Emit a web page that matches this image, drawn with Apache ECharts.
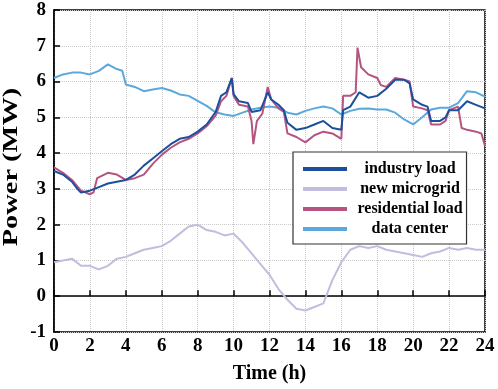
<!DOCTYPE html>
<html>
<head>
<meta charset="utf-8">
<script src="https://cdn.jsdelivr.net/npm/echarts@6/dist/echarts.min.js"></script>
<style>
  html, body { margin: 0; padding: 0; background: #fff; }
  #chart { width: 498px; height: 389px; }
</style>
</head>
<body>
<div id="chart"></div>
<script>
// time (h) / power (MW) pairs
var industry = [[0,3.5],[0.5,3.4],[1,3.2],[1.3,3.0],[1.5,2.9],[2,2.95],[2.5,3.05],[3,3.15],[3.5,3.2],[4,3.25],[4.5,3.4],[5,3.65],[5.5,3.85],[6,4.05],[6.5,4.25],[7,4.4],[7.5,4.45],[8,4.6],[8.5,4.8],[9,5.15],[9.3,5.6],[9.6,5.7],[9.9,6.1],[10,5.65],[10.3,5.45],[10.8,5.4],[11,5.15],[11.5,5.2],[11.9,5.7],[12.1,5.5],[12.5,5.35],[12.8,5.2],[13,4.85],[13.5,4.65],[14,4.7],[14.5,4.8],[15,4.9],[15.5,4.7],[16,4.65],[16.1,5.2],[16.5,5.3],[17,5.7],[17.5,5.55],[18,5.6],[18.5,5.8],[19,6.05],[19.5,6.05],[19.8,5.95],[20,5.5],[20.5,5.35],[20.8,5.3],[21,4.9],[21.5,4.9],[21.8,5.0],[22,5.2],[22.5,5.2],[23,5.45],[23.5,5.35],[24,5.25]]
var microgrid = [[0,0.95],[0.5,1.0],[1,1.05],[1.5,0.85],[2,0.85],[2.5,0.75],[3,0.85],[3.5,1.05],[4,1.1],[4.5,1.2],[5,1.3],[5.5,1.35],[6,1.4],[6.5,1.55],[7,1.75],[7.5,1.95],[8,2.0],[8.5,1.85],[9,1.8],[9.5,1.7],[10,1.75],[10.5,1.5],[11,1.2],[11.5,0.9],[12,0.6],[12.5,0.2],[13,-0.1],[13.5,-0.35],[14,-0.4],[14.5,-0.3],[15,-0.2],[15.5,0.45],[16,0.95],[16.5,1.3],[17,1.4],[17.5,1.35],[18,1.4],[18.5,1.3],[19,1.25],[19.5,1.2],[20,1.15],[20.5,1.1],[21,1.2],[21.5,1.25],[22,1.35],[22.5,1.3],[23,1.35],[23.5,1.3],[24,1.3]]
var residential = [[0,3.6],[0.5,3.45],[1,3.25],[1.5,2.95],[2,2.85],[2.2,2.9],[2.4,3.3],[3,3.45],[3.5,3.4],[4,3.25],[4.5,3.3],[5,3.4],[5.5,3.7],[6,3.95],[6.5,4.15],[7,4.3],[7.5,4.4],[8,4.55],[8.5,4.75],[9,5.05],[9.3,5.45],[9.6,5.6],[9.9,6.1],[10,5.6],[10.3,5.35],[10.8,5.3],[11,4.9],[11.1,4.25],[11.3,4.9],[11.6,5.1],[11.9,5.85],[12.1,5.5],[12.5,5.25],[12.8,5.15],[13,4.55],[13.5,4.45],[14,4.3],[14.5,4.5],[15,4.6],[15.5,4.55],[16,4.4],[16.1,5.6],[16.5,5.6],[16.8,5.7],[16.9,6.95],[17.1,6.4],[17.5,6.2],[18,6.1],[18.2,5.9],[18.5,5.85],[19,6.1],[19.5,6.05],[19.8,6.0],[20,5.3],[20.5,5.25],[20.8,5.2],[21,4.8],[21.5,4.8],[21.8,4.9],[22,5.2],[22.5,5.3],[22.7,4.7],[23,4.65],[23.5,4.6],[23.8,4.55],[24,4.2]]
var dataCenter = [[0,6.1],[0.5,6.2],[1,6.25],[1.5,6.25],[2,6.2],[2.5,6.3],[3,6.48],[3.5,6.35],[3.8,6.3],[4,5.92],[4.5,5.85],[5,5.73],[5.5,5.78],[6,5.82],[6.5,5.75],[7,5.64],[7.5,5.6],[8,5.46],[8.5,5.32],[9,5.14],[9.5,5.08],[10,5.04],[10.5,5.13],[11,5.22],[11.5,5.27],[12,5.3],[12.5,5.27],[13,5.13],[13.5,5.08],[14,5.18],[14.5,5.25],[15,5.3],[15.5,5.25],[16,5.08],[16.5,5.18],[17,5.24],[17.5,5.25],[18,5.22],[18.5,5.22],[19,5.13],[19.5,4.94],[20,4.8],[20.5,5.0],[21,5.22],[21.5,5.27],[22,5.27],[22.5,5.4],[23,5.73],[23.5,5.7],[24,5.58]]

var seriesNames = ['industry load', 'new microgrid', 'residential load', 'data center']
var seriesColors = ['#1c4f9e', '#c3bcdf', '#b5557f', '#5ba9dc']

var font = 'Liberation Serif'
var myChart = echarts.init(document.getElementById('chart'))

function axisCommon () {
  return {
    axisLine: { show: true, lineStyle: { color: '#000', width: 1.5 } },
    axisTick: { show: true, inside: true, length: 6, lineStyle: { color: '#000', width: 1.5 } },
    axisLabel: { color: '#000', fontFamily: font, fontWeight: 'bold', fontSize: 19 },
    splitLine: { show: true, lineStyle: { color: '#c8c8c8', type: 'dotted', width: 1 } },
    nameTextStyle: { color: '#000', fontFamily: font, fontWeight: 'bold', fontSize: 20 }
  }
}

var xAxis = Object.assign(axisCommon(), {
  type: 'value', min: 0, max: 24, interval: 2,
  name: 'Time (h)', nameLocation: 'middle', nameGap: 32
})
var yAxis = Object.assign(axisCommon(), {
  type: 'value', min: -1, max: 8, interval: 1
})
xAxis.axisLabel.margin = 5
yAxis.axisLabel.margin = 8

myChart.setOption({
  animation: false,
  grid: { left: 54, right: 13, top: 10, bottom: 56, show: true, borderColor: '#000', borderWidth: 1.5 },
  // y axis title, stretched along its length like the original
  graphic: [{
    type: 'text',
    x: 12,
    y: 167,
    rotation: Math.PI / 2,
    scaleX: 1.42,
    style: {
      text: 'Power (MW)',
      fill: '#000',
      font: 'bold 20px "Liberation Serif"',
      textAlign: 'center',
      textVerticalAlign: 'middle'
    }
  }],
  legend: {
    data: seriesNames,
    orient: 'vertical',
    left: 293,
    top: 152,
    itemWidth: 44,
    itemHeight: 4,
    itemGap: 4,
    padding: [9, 4, 7, 10],
    borderColor: '#333',
    borderWidth: 1.2,
    backgroundColor: '#fff',
    icon: 'rect',
    formatter: '{a|{name}}',
    textStyle: {
      color: '#000',
      fontFamily: font,
      fontWeight: 700,
      fontSize: 16,
      rich: { a: { width: 116, align: 'center', fontFamily: font, fontWeight: 700, fontSize: 16, color: '#000' } }
    }
  },
  xAxis: xAxis,
  yAxis: yAxis,
  series: [industry, microgrid, residential, dataCenter].map(function (d, i) {
    return {
      name: seriesNames[i],
      type: 'line',
      data: d,
      symbol: 'none',
      z: [4, 1, 3, 2][i],
      lineStyle: { color: seriesColors[i], width: 2 },
      itemStyle: { color: seriesColors[i] }
    }
  })
})
</script>
</body>
</html>
